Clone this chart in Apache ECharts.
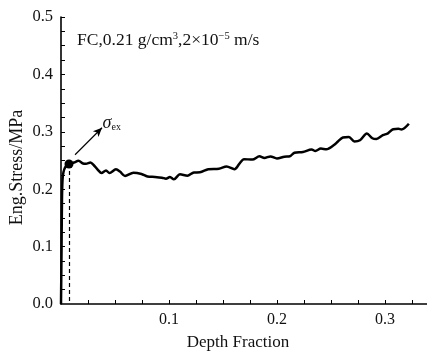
<!DOCTYPE html>
<html>
<head>
<meta charset="utf-8">
<script src="https://cdn.jsdelivr.net/npm/echarts@6/dist/echarts.min.js"></script>
<style>html,body{margin:0;padding:0;background:#fff}#c{width:427px;height:354px}</style>
</head>
<body>
<div id="c"></div>
<script>
// Data
const depthFraction = [0, 0.0005, 0.0009, 0.0014, 0.0023, 0.0042, 0.0074, 0.0120, 0.0162, 0.0204, 0.0231, 0.0273, 0.0306, 0.0343, 0.0375, 0.0417, 0.0449, 0.0509, 0.0546, 0.0593, 0.0671, 0.0745, 0.0801, 0.0870, 0.0935, 0.0972, 0.1009, 0.1046, 0.1102, 0.1171, 0.1231, 0.1287, 0.1364, 0.1463, 0.1534, 0.1606, 0.1657, 0.1694, 0.1773, 0.1838, 0.1884, 0.1940, 0.2000, 0.2069, 0.2120, 0.2162, 0.2241, 0.2321, 0.2356, 0.2407, 0.2458, 0.2528, 0.2565, 0.2611, 0.2667, 0.2718, 0.2769, 0.2833, 0.2884, 0.2921, 0.2981, 0.3028, 0.3077, 0.3125, 0.3153, 0.3222];
const engStress = [0, 0.094, 0.181, 0.216, 0.230, 0.239, 0.244, 0.2465, 0.2495, 0.2448, 0.2443, 0.2465, 0.2413, 0.2334, 0.2282, 0.2326, 0.2282, 0.2347, 0.2308, 0.2230, 0.2287, 0.2265, 0.2221, 0.2213, 0.2200, 0.2183, 0.2213, 0.2172, 0.2260, 0.2235, 0.2291, 0.2294, 0.2348, 0.2357, 0.2395, 0.2348, 0.2456, 0.2523, 0.2516, 0.2573, 0.2544, 0.2571, 0.2535, 0.2566, 0.2573, 0.2636, 0.2648, 0.2692, 0.2666, 0.2707, 0.2697, 0.2770, 0.2831, 0.2901, 0.2909, 0.2831, 0.2852, 0.2969, 0.2887, 0.2875, 0.2941, 0.2974, 0.3045, 0.3052, 0.3040, 0.3141];
const xTickLabels = [0.1, 0.2, 0.3];
const xMinorTicks = [0.025, 0.05, 0.075, 0.1, 0.125, 0.15, 0.175, 0.2, 0.225, 0.25, 0.275, 0.3, 0.325];
const yTickLabels = [0, 0.1, 0.2, 0.3, 0.4, 0.5];
const yMinorTicks = [0.025, 0.05, 0.075, 0.1, 0.125, 0.15, 0.175, 0.2, 0.225, 0.25, 0.275, 0.3, 0.325, 0.35, 0.375, 0.4, 0.425, 0.45, 0.475, 0.5];
const onset = [0.0074, 0.244];
const arrowFrom = [0.013, 0.26];
const arrowTo = [0.038, 0.307];
const sigmaLabelAt = [0.047, 0.315];

const FONT = 'Liberation Serif, Times New Roman, serif';
const chart = echarts.init(document.getElementById('c'), null, {renderer: 'canvas'});
const pts = depthFraction.map((x, i) => [x, engStress[i]]);

chart.setOption({
  animation: false,
  backgroundColor: '#fff',
  grid: {left: 61, top: 17, right: 0, bottom: 50, containLabel: false, outerBoundsMode: 'none'},
  xAxis: {
    type: 'value', min: 0, max: 0.339, interval: 0.1,
    name: 'Depth Fraction', nameLocation: 'middle', nameGap: 30, nameMoveOverlap: false,
    nameTextStyle: {fontFamily: FONT, fontSize: 17, color: '#111', padding: [0, 12, 0, 0]},
    axisLine: {show: true, lineStyle: {color: '#000', width: 1.6}},
    axisTick: {show: true, inside: true, length: 4, customValues: xMinorTicks, lineStyle: {color: '#000', width: 1}},
    axisLabel: {customValues: xTickLabels, fontFamily: FONT, fontSize: 16, color: '#111', margin: 8,
      formatter: v => v.toFixed(1)},
    splitLine: {show: false}
  },
  yAxis: {
    type: 'value', min: 0, max: 0.5, interval: 0.1,
    name: 'Eng.Stress/MPa', nameLocation: 'middle', nameGap: 35, nameRotate: 90, nameMoveOverlap: false,
    nameTextStyle: {fontFamily: FONT, fontSize: 18, color: '#111', padding: [0, 14, 0, 0]},
    axisLine: {show: true, lineStyle: {color: '#000', width: 1.6}},
    axisTick: {show: true, inside: true, length: 4, customValues: yMinorTicks, lineStyle: {color: '#000', width: 1}},
    axisLabel: {customValues: yTickLabels, fontFamily: FONT, fontSize: 16.5, color: '#111', margin: 8,
      formatter: v => v.toFixed(1)},
    splitLine: {show: false}
  },
  series: [{
    type: 'line',
    data: pts,
    showSymbol: false,
    smooth: 0.3,
    lineStyle: {color: '#000', width: 2.5},
    z: 5,
    markLine: {
      silent: true,
      animation: false,
      label: {show: false},
      data: [
        [{coord: onset, symbol: 'none', lineStyle: {type: [4, 3], width: 1.2, color: '#000'}},
         {coord: [onset[0], 0], symbol: 'none'}],
        [{coord: arrowFrom, symbol: 'none', lineStyle: {type: 'solid', width: 1.2, color: '#000'}},
         {coord: arrowTo, symbol: 'arrow', symbolSize: [6, 9]}]
      ]
    },
    markPoint: {
      silent: true,
      animation: false,
      data: [
        {coord: onset, symbol: 'circle', symbolSize: 9, itemStyle: {color: '#000'}, label: {show: false}},
        {coord: sigmaLabelAt, symbol: 'circle', symbolSize: 0, itemStyle: {color: 'rgba(0,0,0,0)'},
          label: {show: true, position: 'inside', formatter: '{s|σ}{e|ex}',
            rich: {s: {fontFamily: FONT, fontStyle: 'italic', fontSize: 18, color: '#111'},
                   e: {fontFamily: FONT, fontSize: 10, color: '#111', padding: [8, 0, 0, 0]}}}}
      ]
    }
  }],
  graphic: [{
    type: 'text', left: 77, top: 31,
    style: {
      text: '{t|FC,0.21 g/cm}{p|3}{t|,2×10}{p|−5}{t| m/s}',
      rich: {
        t: {fontFamily: FONT, fontSize: 17.5, fill: '#111', verticalAlign: 'bottom'},
        p: {fontFamily: FONT, fontSize: 10.5, fill: '#111', padding: [0, 0, 7, 0], verticalAlign: 'bottom'}
      }
    }
  }]
});
</script>
</body>
</html>
